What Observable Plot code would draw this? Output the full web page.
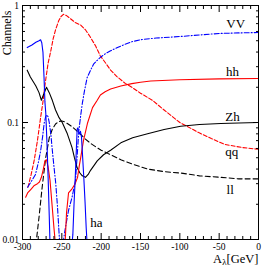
<!DOCTYPE html>
<html><head><meta charset="utf-8">
<script src="https://cdn.jsdelivr.net/npm/d3@7"></script>
<script src="https://cdn.jsdelivr.net/npm/@observablehq/plot@0.6"></script>
<style>html,body{margin:0;padding:0;background:#fff;overflow:hidden}</style>
</head><body><div id="chart"></div>
<script>
// ---- data ----
const vvX = [-293.5,-288,-283.5,-280,-277,-274.5,-272.5,-270.5,-269,-267.5,-266,-264,-262,-260,-257.7,-255.5,-253.4,-251,-249.5,-248,-246,-241.5,-237,-232.6,-230.5,-228.4,-226,-224,-221,-217.8,-213.5,-209.7,-205,-200,-194,-188,-180,-170,-161,-150,-130,-100,-75,-50,-25,0];
const vvY = [0.028,0.032,0.036,0.045,0.057,0.075,0.098,0.113,0.116,0.112,0.1,0.08,0.057,0.042,0.03,0.019,0.011,0.006,0.007,0.0098,0.012,0.0177,0.023,0.032,0.052,0.085,0.115,0.145,0.19,0.242,0.28,0.315,0.34,0.365,0.39,0.41,0.435,0.465,0.49,0.51,0.527,0.543,0.56,0.577,0.583,0.588];

const hhX = [-296,-293.5,-289,-285,-281,-278.5,-276,-273.5,-271.5,-269.5,-267.5,-265,-262.5,-260,-258,-256,-252,-248,-245.8,-244,-241.5,-237.3,-233,-230,-228,-226,-222.5,-217.5,-211,-205,-201,-195,-188,-175,-161,-150,-137,-100,-50,0];
const hhY = [0.023,0.025,0.027,0.029,0.03,0.031,0.034,0.04,0.047,0.048,0.042,0.032,0.02,0.0125,0.009,0.006,0.003,0.003,0.0094,0.017,0.025,0.027,0.03,0.034,0.042,0.05,0.07,0.098,0.134,0.155,0.172,0.183,0.193,0.205,0.215,0.221,0.226,0.232,0.236,0.238];

const zhX = [-294,-290,-283,-279,-276,-273,-269.5,-266,-262,-258,-253.5,-249.5,-243,-237,-234,-230.5,-227,-224,-220,-216.5,-213.5,-209,-205,-197,-188,-175,-160,-141,-120,-99,-75,-48,-25,0];
const zhY = [0.28,0.245,0.205,0.18,0.155,0.175,0.2,0.18,0.154,0.128,0.11,0.1,0.08,0.061,0.05,0.041,0.037,0.035,0.034,0.036,0.039,0.043,0.047,0.053,0.058,0.067,0.074,0.08,0.087,0.093,0.096,0.098,0.099,0.1];

const qqX = [-293,-289,-285,-281,-277,-274,-271,-267.5,-264,-261,-258,-254,-251,-248,-244,-239,-233,-226,-220,-214,-207,-201,-194,-188,-180,-169,-161,-150,-135,-120,-100,-76,-60,-43,-20,0];
const qqY = [0.028,0.036,0.048,0.07,0.11,0.15,0.22,0.32,0.41,0.52,0.62,0.74,0.805,0.84,0.82,0.77,0.715,0.68,0.62,0.54,0.45,0.37,0.32,0.28,0.247,0.215,0.2,0.178,0.155,0.128,0.1,0.082,0.073,0.065,0.061,0.059];

const llX = [-283,-279,-275,-270.5,-266,-262,-258,-254,-250,-246,-242,-237,-232,-226,-220,-213,-207,-200,-193,-188,-175,-160,-141,-120,-99,-75,-48,-25,0];
const llY = [0.009,0.0155,0.028,0.05,0.074,0.088,0.097,0.102,0.103,0.101,0.097,0.092,0.086,0.079,0.072,0.066,0.062,0.058,0.055,0.053,0.048,0.044,0.04,0.038,0.037,0.035,0.034,0.033,0.033];

const haX = [-294,-288,-283,-279,-277,-275.5,-274,-272.7,-271.5,-270.4,-269,-267.5,-266,-265,-262,-240,-237,-236,-234.5,-233,-231.5,-230.5,-229.5,-228.5,-227.5,-226.3,-225,-223.5,-222,-220.5,-219,-218,-216.5];
const haY = [0.437,0.46,0.485,0.5,0.51,0.48,0.4,0.25,0.15,0.12,0.07,0.035,0.016,0.009,0.003,0.003,0.0093,0.011,0.02,0.033,0.06,0.088,0.09,0.083,0.08,0.084,0.075,0.05,0.033,0.021,0.0125,0.0095,0.005];

const labelNames = ["VV","hh","Zh","qq","ll","ha"];
const labelX = [-29,-33,-33,-34,-36,-206];
const labelY = [0.636,0.252,0.104,0.052,0.0243,0.0127];

const xMajor = [-300,-250,-200,-150,-100,-50,0];
const xMajorLabels = ["-300","-250","-200","-150","-100","-50","0"];
const xMinor = [-290,-280,-270,-260,-240,-230,-220,-210,-190,-180,-170,-160,-140,-130,-120,-110,-90,-80,-70,-60,-40,-30,-20,-10];
const yMajor = [0.01,0.1,1];
const yMajorLabels = ["0.01","0.1","1"];
const yMinor = [0.02,0.03,0.04,0.05,0.06,0.07,0.08,0.09,0.2,0.3,0.4,0.5,0.6,0.7,0.8,0.9];

const yTitle = "Channels";
const xTitleMain = "A", xTitleSub = "\u03bb", xTitleUnit = "[GeV]";

// ---- build ----
const rows = (xs, ys) => xs.map((x, i) => ({x, y: ys[i]}));
const RED = "#ff0000", BLUE = "#0000ff", BLACK = "#000000";
const SW = 1.1;
const fmt = (vals, labs) => d => labs[vals.indexOf(d)] ?? "";
const blank = () => "";
const labels = labelNames.map((t, i) => ({t, x: labelX[i], y: labelY[i]}));

const chart = Plot.plot({
  width: 262, height: 267,
  marginLeft: 22, marginRight: 4, marginTop: 5, marginBottom: 28,
  style: {fontFamily: "'Liberation Serif', serif", fontSize: "9.5px", background: "#fff", color: "#000", overflow: "visible"},
  x: {domain: [-300, 0], label: null},
  y: {type: "log", domain: [0.01, 1], label: null},
  marks: [
    Plot.line(rows(qqX, qqY), {x: "x", y: "y", stroke: RED, strokeWidth: SW, strokeDasharray: "4,2", clip: true}),
    Plot.line(rows(llX, llY), {x: "x", y: "y", stroke: BLACK, strokeWidth: SW, strokeDasharray: "5,3", clip: true}),
    Plot.line(rows(vvX, vvY), {x: "x", y: "y", stroke: BLUE, strokeWidth: SW, strokeDasharray: "5,2,1,2", clip: true}),
    Plot.line(rows(zhX, zhY), {x: "x", y: "y", stroke: BLACK, strokeWidth: SW, clip: true}),
    Plot.line(rows(hhX, hhY), {x: "x", y: "y", stroke: RED, strokeWidth: SW, clip: true}),
    Plot.line(rows(haX, haY), {x: "x", y: "y", stroke: BLUE, strokeWidth: SW, clip: true}),
    Plot.frame({stroke: BLACK, strokeWidth: 1}),
    Plot.axisX({ticks: xMajor, tickSize: -6, tickPadding: 10, tickFormat: fmt(xMajor, xMajorLabels), label: null}),
    Plot.axisX({ticks: xMinor, tickSize: -3, tickPadding: 0, tickFormat: blank, label: null}),
    Plot.axisX({anchor: "top", ticks: xMajor, tickSize: -6, tickFormat: blank, label: null}),
    Plot.axisX({anchor: "top", ticks: xMinor, tickSize: -3, tickFormat: blank, label: null}),
    Plot.axisY({ticks: yMajor, tickSize: -6, tickPadding: 9.5, tickFormat: fmt(yMajor, yMajorLabels), label: null}),
    Plot.axisY({ticks: yMinor, tickSize: -3, tickFormat: blank, label: null}),
    Plot.axisY({anchor: "right", ticks: yMajor, tickSize: -6, tickFormat: blank, label: null}),
    Plot.axisY({anchor: "right", ticks: yMinor, tickSize: -3, tickFormat: blank, label: null}),
    Plot.text(labels, {x: "x", y: "y", text: "t", textAnchor: "middle", lineAnchor: "bottom", fontSize: 13, fill: BLACK}),
    Plot.text([yTitle], {text: d => d, frameAnchor: "top-left", rotate: -90, textAnchor: "end", lineAnchor: "bottom", dx: -12, dy: 5, fontSize: 12, fill: BLACK}),
    Plot.text([xTitleUnit], {text: d => d, frameAnchor: "bottom-right", textAnchor: "end", lineAnchor: "bottom", dy: 23, fontSize: 12.5, fill: BLACK}),
    Plot.text([xTitleSub], {text: d => d, frameAnchor: "bottom-right", textAnchor: "end", lineAnchor: "bottom", dx: -32, dy: 25.5, fontSize: 9, fill: BLACK}),
    Plot.text([xTitleMain], {text: d => d, frameAnchor: "bottom-right", textAnchor: "end", lineAnchor: "bottom", dx: -36.5, dy: 23, fontSize: 12.5, fill: BLACK})
  ]
});
document.getElementById("chart").appendChild(chart);
</script>
</body></html>
